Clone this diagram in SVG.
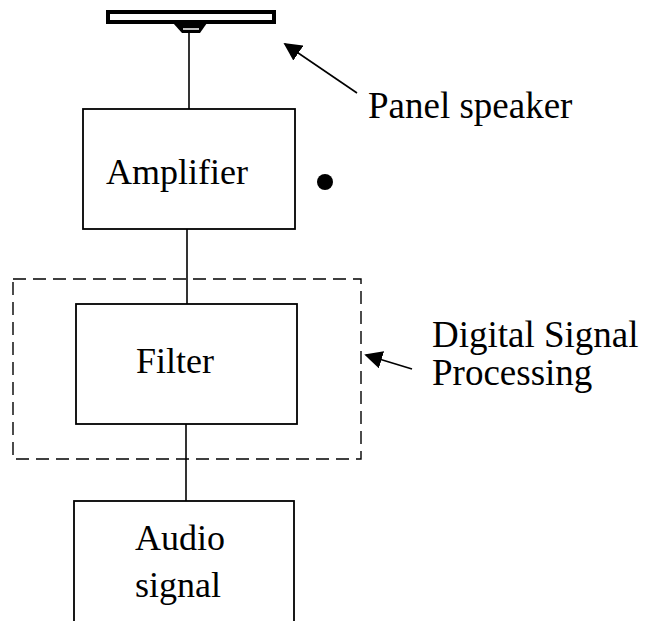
<svg xmlns="http://www.w3.org/2000/svg" width="646" height="621" viewBox="0 0 646 621">
<style>
.box{fill:#fff;stroke:#000;stroke-width:1.8}
.ln{stroke:#000;stroke-width:1.6;fill:none}
.t{font-family:"Liberation Serif","Times New Roman",serif;font-size:36px;fill:#000}
.lb{font-size:37px}
.c{text-anchor:middle}
</style>
<defs>
<marker id="ah" viewBox="0 0 10 10" refX="9" refY="5" markerWidth="18" markerHeight="18" markerUnits="userSpaceOnUse" orient="auto">
<path d="M0,0 L10,5 L0,10 z" fill="#000"/>
</marker>
</defs>
<rect width="646" height="621" fill="#fff"/>
<g id="connectors">
<line class="ln" x1="189" y1="33" x2="189" y2="109"/>
<line class="ln" x1="187" y1="229" x2="187" y2="304"/>
<line class="ln" x1="186" y1="424" x2="186" y2="501"/>
<line class="ln" x1="357" y1="93" x2="285" y2="44" marker-end="url(#ah)"/>
<line class="ln" x1="412" y1="369" x2="366" y2="355" marker-end="url(#ah)"/>
</g>
<g id="speaker">
<rect x="108" y="12" width="166" height="10" fill="#fff" stroke="#000" stroke-width="4"/>
<polygon points="173,23 207,23 200,33 182,33" fill="#000"/>
<line x1="183" y1="29" x2="199" y2="29" stroke="#fff" stroke-width="1.5"/>
</g>
<g id="amplifier">
<rect class="box" x="83" y="109" width="212" height="120"/>
<text class="t c" x="177" y="184">Amplifier</text>
</g>
<circle id="dot" cx="325" cy="182" r="8" fill="#000"/>
<g id="dsp">
<rect x="13" y="279" width="348" height="180" fill="none" stroke="#000" stroke-width="1.4" stroke-dasharray="13,7"/>
</g>
<g id="filter">
<rect class="box" x="76" y="304" width="221" height="120"/>
<text class="t c" x="175" y="373">Filter</text>
</g>
<g id="audio">
<rect class="box" x="74" y="501" width="220" height="130"/>
<text class="t c" x="180" y="550">Audio</text>
<text class="t c" x="178" y="597">signal</text>
</g>
<g id="label-speaker">
<text class="t lb" x="368" y="118">Panel speaker</text>
</g>
<g id="label-dsp">
<text class="t lb" x="432" y="347">Digital Signal</text>
<text class="t lb" x="432" y="385">Processing</text>
</g>
</svg>
